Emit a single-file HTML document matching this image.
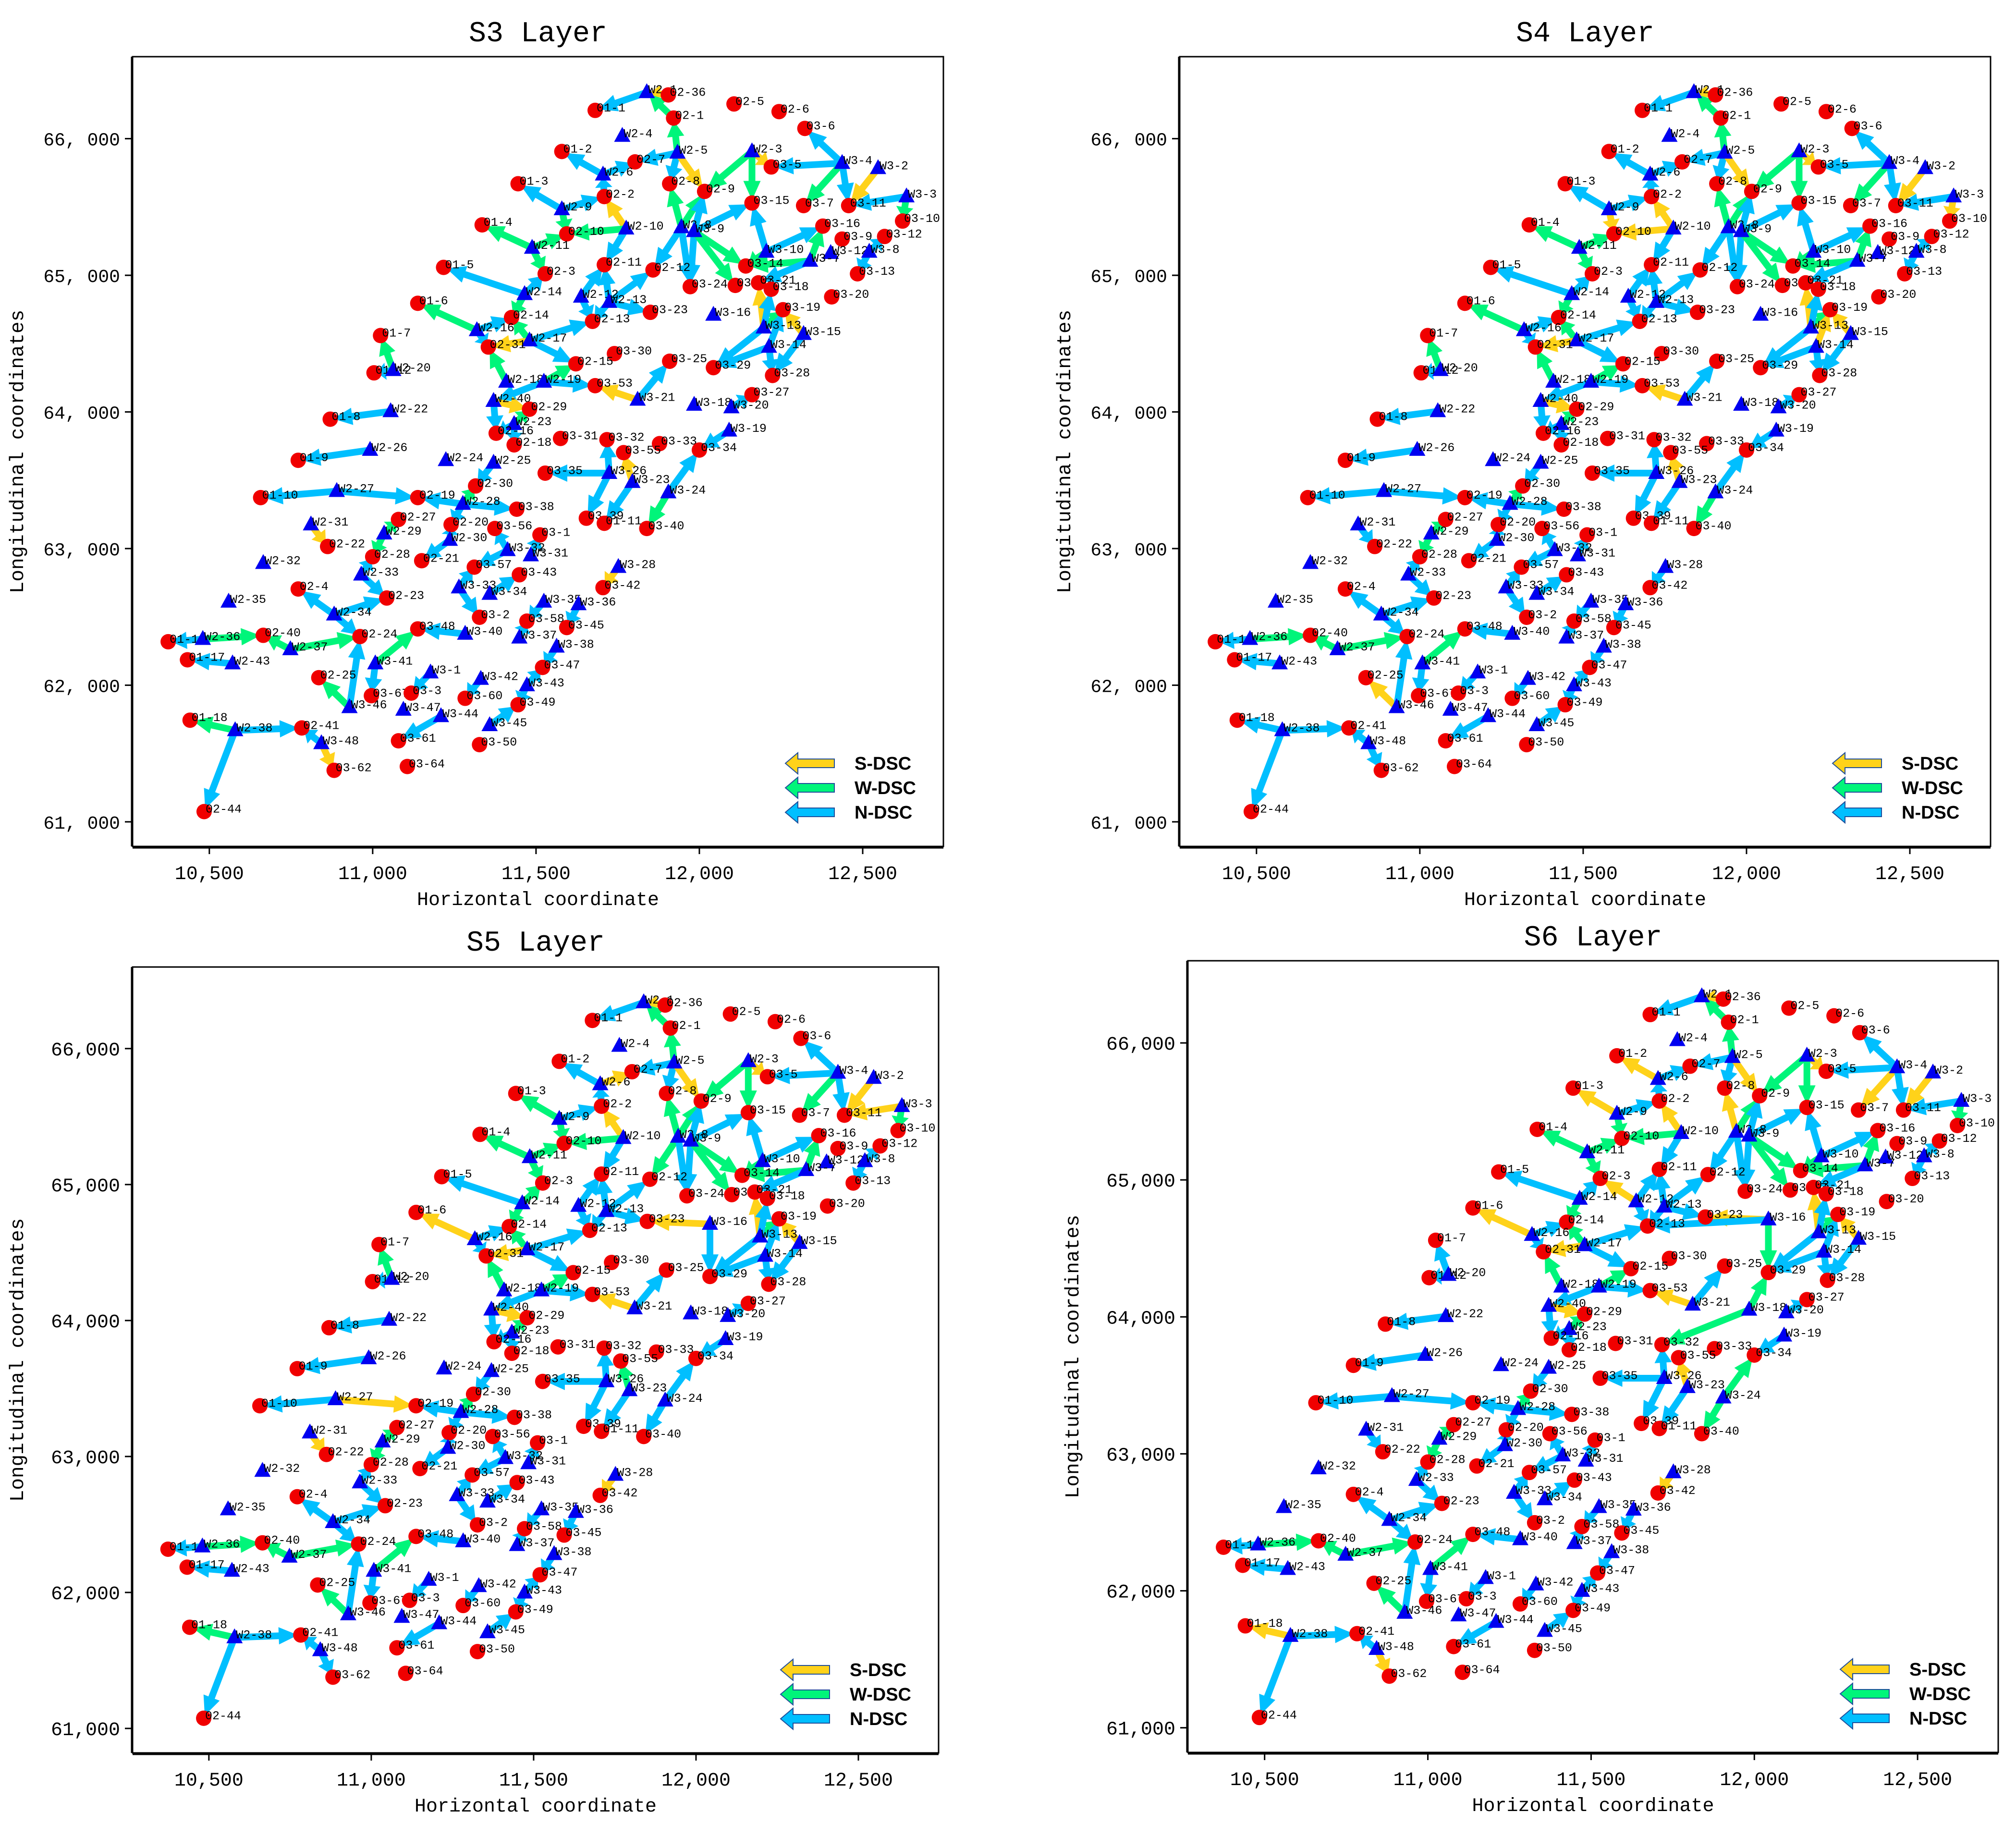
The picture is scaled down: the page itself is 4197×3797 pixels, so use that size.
<!DOCTYPE html>
<html><head><meta charset="utf-8"><title>DSC layers</title>
<style>
html,body{margin:0;padding:0;background:#fff;}
svg{display:block;}
text{font-family:"Liberation Mono","Noto Sans CJK SC",monospace;}
</style></head>
<body>
<svg id="chart" xmlns="http://www.w3.org/2000/svg" width="4197" height="3797" viewBox="0 0 4197 3797"></svg>
<script>
const nodeNames=["01-1","W2-1","02-36","02-1","02-5","02-6","03-6","W2-4","01-2","02-7","W2-5","W2-3","03-5","W3-4","W3-2","W2-6","01-3","02-8","02-2","02-9","03-15","03-7","03-11","W3-3","03-10","W2-9","01-4","02-10","W2-10","W2-8","W3-9","03-16","03-9","03-12","W3-10","W2-11","W3-12","W3-8","W3-7","03-14","02-11","02-3","02-12","01-5","03-13","03-24","03-17","03-21","03-18","03-20","W2-14","W2-12","01-6","W2-13","02-14","03-23","W3-16","03-19","W2-16","02-13","W3-13","W3-15","01-7","W2-17","02-31","03-30","03-25","03-29","W3-14","02-15","01-12","W2-20","03-28","W2-18","W2-19","03-53","03-27","W3-21","01-8","W2-22","W3-18","W3-20","W2-40","02-29","W2-23","02-16","02-18","03-31","03-32","03-33","03-34","W3-19","03-55","01-9","W2-26","W2-24","W2-25","03-35","W3-26","W3-23","W3-24","01-10","W2-27","02-19","02-30","W2-28","03-38","03-39","01-11","03-40","W2-31","02-27","02-20","03-56","03-1","W2-29","02-22","W2-32","02-28","02-21","W2-30","03-57","W3-32","W3-31","03-43","W3-28","03-42","W2-33","02-4","02-23","W3-33","W3-34","W3-35","W3-36","W2-35","W2-34","03-2","03-58","03-45","03-48","W3-40","W3-37","W3-38","01-16","W2-36","02-40","02-24","W2-37","01-17","W2-43","03-47","W3-41","W3-1","W3-42","02-25","03-67","03-3","W3-43","03-60","03-49","W3-46","W3-47","W3-44","W3-45","01-18","W2-38","02-41","W3-48","03-61","03-50","03-62","03-64","02-44"];
const nodeX=[11681,11839,11905,11921,12106,12244,12323,11764,11579,11803,11933,12161,12220,12437,12547,11705,11445,11909,11709,12016,12161,12319,12457,12634,12622,11579,11335,11594,11776,11945,11984,12378,12437,12567,12205,11488,12402,12520,12339,12142,11709,11528,11858,11217,12484,11972,12110,12181,12220,12405,11465,11638,11138,11724,11425,11850,12043,12256,11319,11673,12197,12319,11024,11480,11354,11740,11909,12043,12213,11622,11004,11063,12224,11409,11524,11681,12161,11811,10870,11055,11984,12098,11370,11480,11433,11378,11433,11575,11717,11878,12000,12091,11768,10772,10992,11224,11370,11528,11724,11795,11905,10657,10890,11138,11315,11276,11441,11654,11709,11839,10811,11079,11240,11374,11512,11035,10862,10665,11000,11150,11236,11311,11413,11484,11449,11752,11705,10965,10772,11043,11264,11358,11524,11630,10559,10882,11327,11472,11594,11138,11283,11449,11563,10374,10480,10665,10961,10748,10433,10571,11520,11008,11177,11331,10835,10996,11118,11472,11283,11445,10929,11094,11209,11358,10441,10579,10783,10843,11079,11327,10882,11106,10484];
const nodeY=[66207,66339,66320,66151,66254,66198,66075,66019,65906,65830,65896,65906,65793,65821,65783,65736,65670,65670,65576,65614,65529,65510,65510,65576,65397,65482,65369,65303,65341,65350,65322,65360,65265,65284,65171,65200,65162,65171,65105,65068,65077,65011,65039,65058,65011,64917,64926,64945,64898,64842,64861,64842,64795,64804,64691,64729,64710,64748,64597,64663,64616,64569,64559,64522,64475,64427,64371,64324,64475,64352,64286,64305,64267,64220,64220,64192,64126,64088,63947,64004,64051,64032,64079,64020,63910,63844,63759,63806,63797,63768,63721,63862,63702,63646,63721,63646,63627,63552,63552,63486,63410,63373,63420,63373,63458,63326,63288,63222,63185,63147,63175,63213,63175,63147,63100,63109,63015,62893,62940,62911,63062,62864,62987,62949,62808,62864,62714,62808,62704,62638,62714,62667,62610,62591,62610,62516,62497,62469,62422,62412,62375,62347,62281,62318,62337,62365,62356,62262,62186,62158,62130,62158,62092,62045,62055,61923,61942,61998,61904,61857,61838,61819,61772,61706,61744,61669,61687,61574,61593,61565,61377,61405,61075];
const baseEdges=["W2-1>01-1:N","02-36>W2-1:S","02-1>W2-1:W","W2-5>02-1:W","W2-5>02-7:N","W2-5>02-8:N","W2-5>02-9:S","W2-6>01-2:N","W2-6>02-7:N","02-2>W2-6:N","W2-3>03-5:S","W2-3>02-9:W","W2-3>03-15:W","W3-4>03-5:N","W3-4>03-6:N","W3-4>03-7:W","W3-4>03-11:N","W3-2>03-11:S","W3-3>03-11:N","W3-3>03-10:W","W2-9>01-3:N","W2-9>02-2:N","W2-9>02-10:W","W2-10>02-2:S","W2-10>02-10:W","W2-10>02-11:N","W2-8>02-8:W","W2-8>02-9:W","W2-8>02-12:N","W2-8>03-24:N","W3-9>02-9:N","W3-9>03-15:N","W3-9>03-24:N","W3-9>03-17:W","W3-9>03-14:W","W3-10>03-16:N","W3-10>03-15:N","W3-10>03-14:W","W3-7>03-16:W","W3-7>03-14:W","W3-7>03-21:N","W3-8>03-12:N","W3-8>03-13:N","W2-11>01-4:W","W2-11>02-10:W","W2-11>02-3:W","W2-14>01-5:N","W2-14>02-3:N","W2-14>02-14:W","W2-12>02-11:N","W2-12>02-13:N","W2-13>02-11:N","W2-13>02-12:N","W2-13>03-23:N","W2-13>02-13:N","W2-16>01-6:W","W2-16>02-14:N","W2-16>02-31:N","W2-17>02-14:W","W2-17>02-13:N","W2-17>02-31:S","W2-17>02-15:N","W3-13>03-21:S","W3-13>03-19:W","W3-13>03-29:N","W3-13>03-18:N","W3-15>03-19:S","W3-15>03-28:N","W3-14>03-19:N","W3-14>03-29:N","W3-14>03-28:N","W2-18>02-31:W","W2-19>02-15:W","W2-19>03-53:N","W2-19>W2-40:N","W3-21>03-25:N","W3-21>03-53:S","W2-20>01-7:W","W2-20>01-12:N","W2-22>01-8:N","W2-40>02-29:S","W2-23>02-29:W","W2-23>02-16:N","W2-23>02-18:N","W2-40>02-16:N","W3-26>03-32:N","W3-26>03-35:N","W3-26>03-39:N","W3-23>03-55:S","W3-23>01-11:N","W3-24>03-34:N","W3-24>03-40:W","W3-19>03-34:N","W3-20>03-27:N","W2-26>01-9:N","W2-27>01-10:N","W2-27>02-19:N","W2-25>02-30:N","W2-28>02-19:N","W2-28>02-30:W","W2-28>02-20:N","W2-28>03-38:N","W2-31>02-22:S","W2-29>02-27:W","W2-29>02-28:W","W2-30>02-20:N","W2-30>02-21:N","W3-32>03-56:N","W3-32>03-57:N","W3-31>03-1:N","W3-28>03-42:S","W2-33>02-28:N","W2-33>02-23:N","W2-34>02-4:N","W2-34>02-23:N","W2-34>02-24:N","W3-33>03-57:N","W3-33>03-2:N","W3-34>03-43:N","W3-35>03-58:N","W3-36>03-45:N","W2-36>01-16:N","W2-37>02-40:W","W2-37>02-24:W","W2-43>01-17:N","W2-36>02-40:W","W3-40>03-48:N","W3-37>03-58:N","W3-38>03-47:N","W3-41>03-48:W","W3-41>03-67:N","W3-46>02-25:W","W3-46>02-24:N","W3-1>03-3:N","W3-42>03-60:N","W3-43>03-49:N","W3-43>03-47:N","W3-45>03-49:N","W3-44>03-61:N","W2-38>01-18:W","W2-38>02-44:N","W2-38>02-41:N","W3-48>02-41:N","W3-48>03-62:S"];
const s4Changes=["W3-46>02-25:S","W2-10>02-10:S","W3-3>03-10:S","W2-31>02-22:N","W3-48>03-62:N","W3-28>03-42:N","W2-38>01-18:N","W2-9>02-10:S","W3-14>03-19:S"];
const s5Changes=["W2-6>02-7:S","W3-16>03-23:S","W3-16>03-29:N","W2-27>02-19:S","W3-3>03-11:S","W2-16>01-6:S","W2-9>01-3:W","W2-14>02-3:W","W2-8>02-12:W","W3-48>03-62:N","W3-24>03-40:N","W3-23>03-55:W"];
const s6Changes=["W2-6>01-2:S","W2-9>01-3:S","W2-16>01-6:S","W2-12>02-3:S","W3-16>03-23:S","W3-16>02-13:N","W3-16>03-29:W","W2-38>01-18:S","W3-4>03-7:S","W2-8>02-8:S","W3-18>03-32:W","W3-18>03-29:W","W3-24>03-34:W","W2-31>02-22:N","W2-20>01-7:N","W2-20>01-12:N"];
const tickX=[10500,11000,11500,12000,12500];
const tickY=[61000,62000,63000,64000,65000,66000];
const titles=["S3 Layer","S4 Layer","S5 Layer","S6 Layer"];
const legendLabels=["S-DSC","W-DSC","N-DSC"];

const NS="http://www.w3.org/2000/svg";
const svg=document.getElementById('chart');
const XD=[10265,12747], YD=[60820,66600];
const COL={N:"#00BFFF",W:"#00F57A",S:"#FFD21A"};
const panels=[
 {L:276,T:118,R:1964,B:1762,ty:86,wide:true},
 {L:2456,T:118,R:4144,B:1762,ty:86,wide:true},
 {L:276,T:2013,R:1954,B:3649,ty:1979,wide:false},
 {L:2473,T:2000,R:4160,B:3648,ty:1968,wide:false}];
function mk(tag,attrs,parent){const e=document.createElementNS(NS,tag);for(const k in attrs)e.setAttribute(k,attrs[k]);parent.appendChild(e);return e;}
function fmt(v,wide){const s=String(v);return s.slice(0,s.length-3)+(wide?", ":",")+s.slice(-3);}
function mergeEdges(ch){
  const list=baseEdges.slice();
  ch.forEach(c=>{const k=c.split(':')[0];const i=list.findIndex(e=>e.split(':')[0]===k);if(i>=0)list[i]=c;else list.push(c);});
  return list;
}
const panelEdges=[baseEdges,mergeEdges(s4Changes),mergeEdges(s5Changes),mergeEdges(s6Changes)];

panels.forEach((p,pi)=>{
  const sx=v=>p.L+(v-XD[0])/(XD[1]-XD[0])*(p.R-p.L);
  const sy=v=>p.B-(v-YD[0])/(YD[1]-YD[0])*(p.B-p.T);
  const g=mk('g',{},svg);
  
  
  const t=mk('text',{x:(p.L+p.R)/2,y:p.ty,'text-anchor':'middle','font-size':60},g);t.textContent=titles[pi];
  
  const fr=mk('rect',{x:p.L,y:p.T,width:p.R-p.L,height:p.B-p.T,fill:'#fff',stroke:'#000','stroke-width':3},g);
  
  mk('line',{x1:p.L,y1:p.B+2,x2:p.R,y2:p.B+2,stroke:'#000','stroke-width':5},g);
  mk('line',{x1:p.L-1,y1:p.T,x2:p.L-1,y2:p.B,stroke:'#000','stroke-width':5},g);
  tickX.forEach(v=>{
    const x=sx(v);
    const tl=mk('line',{x1:x,y1:p.B,x2:x,y2:p.B+16,stroke:'#000','stroke-width':3},g);
    
    const tx=mk('text',{x:x,y:p.B+68,'text-anchor':'middle','font-size':40},g);tx.textContent=fmt(v,false);
    
  });
  tickY.forEach(v=>{
    const y=sy(v);
    const tl=mk('line',{x1:p.L-16,y1:y,x2:p.L,y2:y,stroke:'#000','stroke-width':3},g);
    
    const tx=mk('text',{x:p.L-26,y:y+14,'text-anchor':'end','font-size':p.wide?38:40},g);tx.textContent=fmt(v,p.wide);
    
  });
  const xt=mk('text',{x:(p.L+p.R)/2,y:p.B+122,'text-anchor':'middle','font-size':40},g);xt.textContent="Horizontal coordinate";
  
  const cy=(p.T+p.B)/2, cx=p.L-228;
  const yt=mk('text',{x:cx,y:cy,'text-anchor':'middle','font-size':41,transform:`rotate(-90 ${cx} ${cy})`},g);yt.textContent="Longitudinal coordinates";
  

  const ag=mk('g',{},g);
  
  panelEdges[pi].forEach(e=>{
    const [pair,type]=e.split(':');const [a,b]=pair.split('>');
    const ia=nodeNames.indexOf(a), ib=nodeNames.indexOf(b);
    if(ia<0||ib<0)return;
    const x1=sx(nodeX[ia]),y1=sy(nodeY[ia]),x2=sx(nodeX[ib]),y2=sy(nodeY[ib]);
    const dx=x2-x1,dy=y2-y1,len=Math.hypot(dx,dy);if(len<20)return;
    const ux=dx/len,uy=dy/len,nx=-uy,ny=ux;
    const end=len-6, hl=Math.min(40,len*0.45), sw=7, hw=18;
    const P=(d,o)=>[(x1+ux*d+nx*o).toFixed(1),(y1+uy*d+ny*o).toFixed(1)].join(',');
    const pts=[P(0,sw),P(end-hl,sw),P(end-hl,hw),P(end,0),P(end-hl,-hw),P(end-hl,-sw),P(0,-sw)].join(' ');
    const poly=mk('polygon',{points:pts,fill:COL[type]},ag);
    
    
  });
  const ng=mk('g',{},g);
  
  nodeNames.forEach((n,i)=>{
    const x=sx(nodeX[i]),y=sy(nodeY[i]);
    let m;
    if(n[0]==='W'){m=mk('polygon',{points:`${x},${y-19} ${x-17},${y+12} ${x+17},${y+12}`,fill:'#0000F0'},ng);}
    else{m=mk('circle',{cx:x,cy:y,r:16,fill:'#F00000'},ng);}
    
    
    const lb=mk('text',{x:x+3,y:y+2,'font-size':25,fill:'#000'},ng);lb.textContent=n;
    
    
  });
  const lg=mk('g',{},g);
  
  const lcol=[COL.S,COL.W,COL.N];
  legendLabels.forEach((lab,k)=>{
    const y=p.B-173+k*51, x0=p.R-329, x1=p.R-227;
    const a=mk('polygon',{points:`${x0},${y} ${x0+26},${y-22} ${x0+26},${y-9} ${x1},${y-9} ${x1},${y+9} ${x0+26},${y+9} ${x0+26},${y+22}`,fill:lcol[k],stroke:'#1f4e9a','stroke-width':2},lg);
    
    const tx=mk('text',{x:p.R-185,y:y+13,'font-size':38,'font-weight':'bold',style:'font-family:"Liberation Sans",sans-serif'},lg);tx.textContent=lab;
    
  });
});
</script>
</body></html>
